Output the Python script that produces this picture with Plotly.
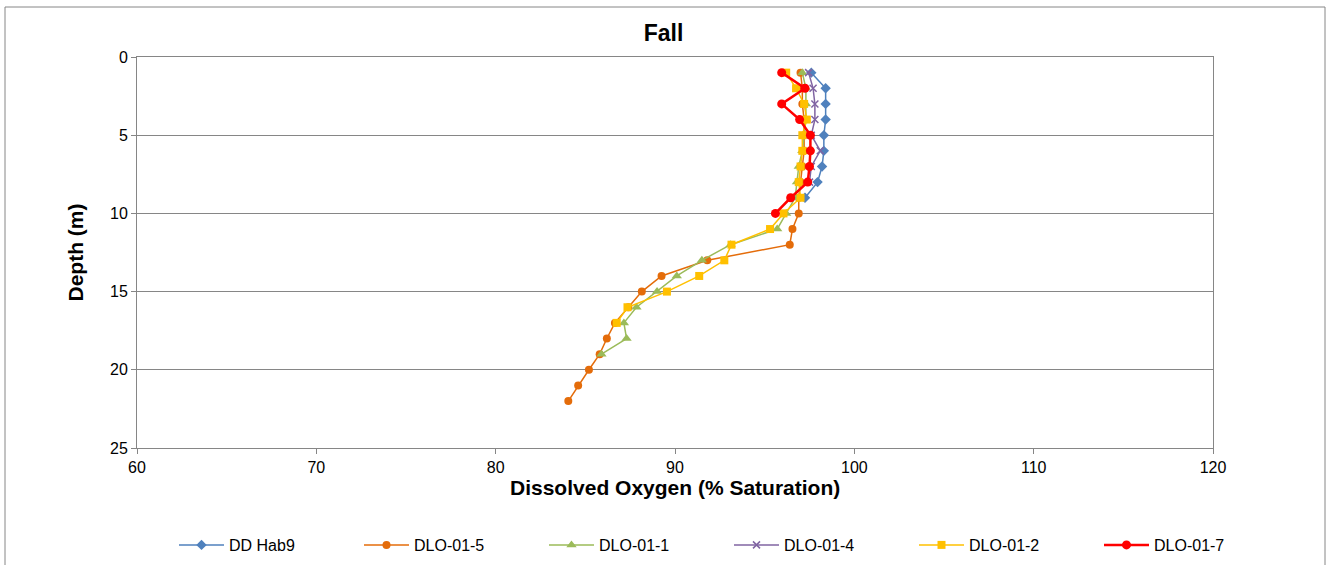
import plotly.graph_objects as go

# Dissolved oxygen profiles (% saturation) by depth (m), fall survey
depth_hab9 = [1, 2, 3, 4, 5, 6, 7, 8, 9]
do_hab9 = [97.6, 98.4, 98.4, 98.4, 98.3, 98.3, 98.2, 97.95, 97.25]

depth_0105 = list(range(1, 23))
do_0105 = [97.0, 97.1, 97.1, 97.2, 97.2, 97.2, 97.1, 97.0, 96.9, 96.9, 96.55,
           96.4, 91.8, 89.25, 88.15, 87.4, 86.65, 86.2, 85.8, 85.2, 84.6, 84.05]

depth_0101 = list(range(1, 20))
do_0101 = [97.1, 97.3, 97.3, 97.3, 97.2, 97.1, 96.9, 96.8, 96.7, 96.2, 95.7,
           93.1, 91.5, 90.1, 89.0, 87.85, 87.15, 87.3, 85.9]

depth_0104 = [1, 2, 3, 4, 5, 6, 7, 8]
do_0104 = [97.45, 97.7, 97.8, 97.8, 97.6, 98.1, 97.6, 97.5]

depth_0102 = list(range(1, 18))
do_0102 = [96.2, 96.75, 97.2, 97.35, 97.1, 97.1, 97.0, 96.9, 97.0, 96.05, 95.3,
           93.15, 92.75, 91.35, 89.55, 87.35, 86.75]

depth_0107 = [1, 2, 3, 4, 5, 6, 7, 8, 9, 10]
do_0107 = [95.95, 97.25, 95.95, 96.95, 97.55, 97.55, 97.5, 97.4, 96.45, 95.6]

# name, x values, depths, colour, marker, marker size, line width, legend group
series = [
    ("DD Hab9", do_hab9, depth_hab9, "#4F81BD", "diamond", 8, 1.5, "legend"),
    ("DLO-01-5", do_0105, depth_0105, "#E46C0A", "circle", 8, 1.5, "legend"),
    ("DLO-01-1", do_0101, depth_0101, "#9BBB59", "triangle-up", 9, 1.5, "legend"),
    ("DLO-01-4", do_0104, depth_0104, "#8064A2", "x-thin-open", 7, 1.5, "legend2"),
    ("DLO-01-2", do_0102, depth_0102, "#FFC000", "square", 8, 1.5, "legend2"),
    ("DLO-01-7", do_0107, depth_0107, "#FF0000", "circle", 9, 2.5, "legend2"),
]

x_ticks = [60, 70, 80, 90, 100, 110, 120]
y_ticks = [0, 5, 10, 15, 20, 25]

fig = go.Figure()
for name, xs, ys, color, sym, size, lw, leg in series:
    marker = dict(symbol=sym, size=size, color=color)
    if sym == "x-thin-open":
        marker["line"] = dict(color=color, width=1.5)
    fig.add_trace(go.Scatter(
        x=xs, y=ys, name=name, mode="lines+markers", legend=leg,
        line=dict(color=color, width=lw), marker=marker,
    ))

font_main = "Liberation Sans, Arial, sans-serif"
grid_col = "#868686"

W, H = 1327, 565
L, R, T, B = 137, 1213, 57, 448
pw, ph = R - L, B - T

legend_common = dict(
    orientation="h", xref="container", yref="container",
    xanchor="left", y=1 - 528 / H, yanchor="top",
    entrywidth=125, entrywidthmode="pixels", itemwidth=45,
    font=dict(size=16), bgcolor="rgba(0,0,0,0)",
)

fig.update_layout(
    width=W, height=H,
    margin=dict(l=L, r=W - R, t=T, b=H - B, autoexpand=False),
    paper_bgcolor="white", plot_bgcolor="white",
    font=dict(family=font_main, size=16, color="black"),
    title=dict(text="<b>Fall</b>", x=0.5, xanchor="center", y=1 - 33 / H,
               yanchor="middle", font=dict(size=23)),
    xaxis=dict(
        range=[60, 120], tickvals=x_ticks, showgrid=False,
        showline=True, linecolor=grid_col, linewidth=1, mirror=True,
        ticks="outside", ticklen=5, tickcolor=grid_col, zeroline=False,
        tickfont=dict(size=16),
    ),
    yaxis=dict(
        range=[25, 0], tickvals=y_ticks, showgrid=True, gridcolor=grid_col,
        gridwidth=1, showline=True, linecolor=grid_col, linewidth=1,
        mirror=True, ticks="outside", ticklen=5, tickcolor=grid_col,
        zeroline=False, tickfont=dict(size=16),
    ),
    legend=dict(legend_common, x=174 / W),
    legend2=dict(legend_common, x=(174 + 3 * 185) / W),
    showlegend=True,
)

# Axis titles
fig.add_annotation(text="<b>Dissolved Oxygen (% Saturation)</b>",
                   xref="paper", yref="paper", x=0.5, y=(B - 487) / ph,
                   xanchor="center", yanchor="middle", showarrow=False,
                   font=dict(size=21))
fig.add_annotation(text="<b>Depth (m)</b>", textangle=-90,
                   xref="paper", yref="paper", x=(75 - L) / pw, y=0.5,
                   xanchor="center", yanchor="middle", showarrow=False,
                   font=dict(size=21))

# Outer chart frame
fig.add_shape(type="rect", xref="paper", yref="paper",
              x0=(5 - L) / pw, x1=(1325 - L) / pw,
              y0=(B - 575) / ph, y1=(B - 7) / ph,
              line=dict(color=grid_col, width=1), layer="below")

fig.write_html("out.html")
